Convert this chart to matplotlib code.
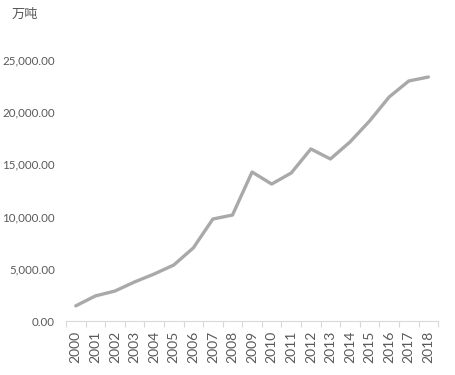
import matplotlib.pyplot as plt
import numpy as np

plt.rcParams['font.family'] = ['Lato', 'Noto Sans CJK SC', 'DejaVu Sans']

# Data (unit: 万吨)
years = [str(y) for y in range(2000, 2019)]
values = [1450, 2400, 2870, 3740, 4500, 5360, 7000, 9770, 10150, 14270,
          13120, 14180, 16480, 15520, 17150, 19160, 21460, 22990, 23370]
yticks = [0, 5000, 10000, 15000, 20000, 25000]

fig = plt.figure(figsize=(4.55, 3.75), dpi=100)
ax = fig.add_axes([0.145, 0.144, 0.818, 0.696])

x = np.arange(len(years))
ax.plot(x, values, color='#A9A9A9', linewidth=2.4, solid_capstyle='round')

ax.set_xlim(-0.5, len(years) - 0.5)
ax.set_ylim(0, 25000)
ax.set_yticks(yticks)
ax.set_yticklabels([f'{v:,.2f}' for v in yticks], fontsize=8.3, color='#595959')
ax.set_xticks(x)
ax.set_xticklabels(years, rotation=90, fontsize=10, color='#595959')
ax.tick_params(axis='x', which='major', length=0, pad=7)
ax.tick_params(axis='y', length=0, pad=8)
ax.set_xticks(np.arange(-0.5, len(years), 1), minor=True)
ax.tick_params(axis='x', which='minor', length=4, color='#D9D9D9', width=0.8)

for s in ['top', 'right', 'left']:
    ax.spines[s].set_visible(False)
ax.spines['bottom'].set_color('#D9D9D9')
ax.spines['bottom'].set_linewidth(0.8)

fig.text(12 / 455, 1 - 14 / 375, '万吨', fontsize=9.5, color='#595959', va='center', ha='left')

fig.savefig('out.png', dpi=100, facecolor='white')
